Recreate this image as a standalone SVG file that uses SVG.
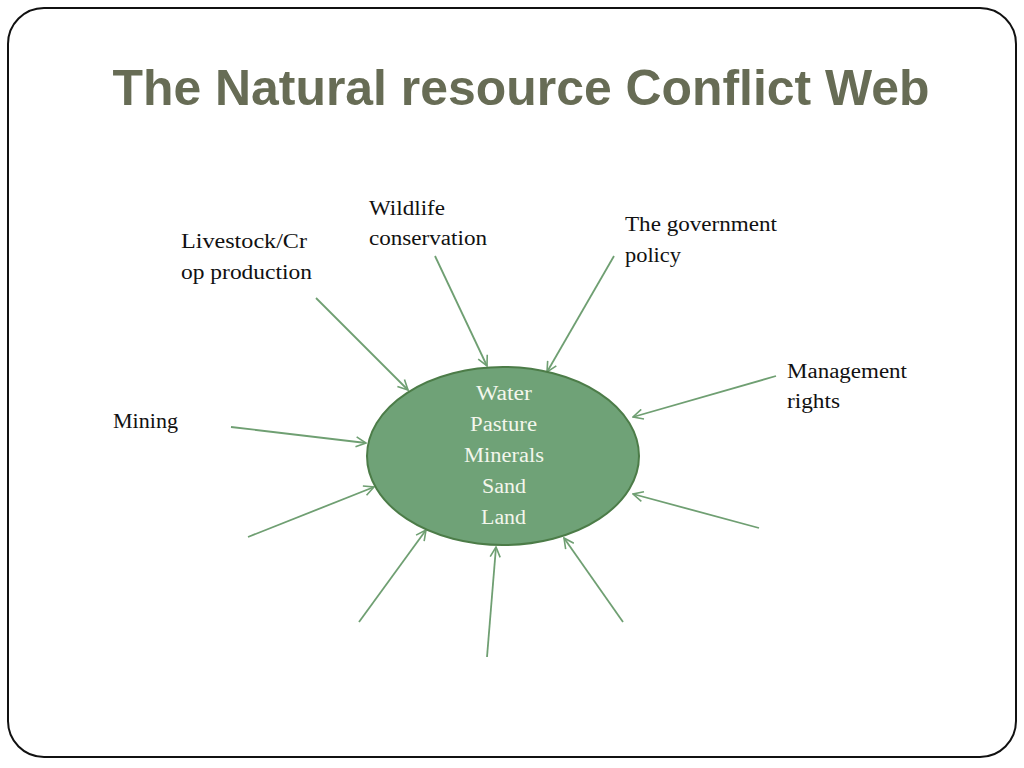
<svg xmlns="http://www.w3.org/2000/svg" width="1024" height="768" viewBox="0 0 1024 768">
<defs>
<marker id="arr" viewBox="0 0 12 12" refX="11" refY="6" markerWidth="12" markerHeight="12" markerUnits="userSpaceOnUse" orient="auto">
<path d="M1,1 L11,6 L1,11" fill="none" stroke="#6f9f72" stroke-width="1.6"/>
</marker>
<style>
.lbl{font-family:"Liberation Serif","DejaVu Serif",serif;font-size:20.5px;fill:#111}
.res{font-family:"Liberation Serif","DejaVu Serif",serif;font-size:20.5px;fill:#f3f6ec;text-anchor:middle}
.c{stroke:#6f9f72;stroke-width:1.8;fill:none;marker-end:url(#arr)}
</style>
</defs>
<rect x="0" y="0" width="1024" height="768" fill="#fff"/>
<rect x="8" y="8" width="1008" height="749" rx="36" ry="36" fill="#fff" stroke="#111" stroke-width="2"/>
<text x="521" y="105" text-anchor="middle" font-family="Liberation Sans,Arial,sans-serif" font-weight="bold" font-size="50" fill="#676c55" textLength="817" lengthAdjust="spacingAndGlyphs">The Natural resource Conflict Web</text>
<g id="connectors">
<line class="c" x1="316" y1="298" x2="408" y2="390"/>
<line class="c" x1="435" y1="256" x2="487" y2="366"/>
<line class="c" x1="614" y1="256" x2="547" y2="372"/>
<line class="c" x1="776" y1="376" x2="633" y2="417"/>
<line class="c" x1="231" y1="427" x2="366" y2="443"/>
<line class="c" x1="248" y1="537" x2="374" y2="487"/>
<line class="c" x1="359" y1="622" x2="426" y2="530"/>
<line class="c" x1="487" y1="657" x2="496" y2="547"/>
<line class="c" x1="623" y1="622" x2="564" y2="538"/>
<line class="c" x1="759" y1="528" x2="633" y2="494"/>
</g>
<g id="resources">
<ellipse cx="503" cy="456" rx="136" ry="89" fill="#6fa277" stroke="#4c7c48" stroke-width="2"/>
<text class="res" x="504" y="400" textLength="56" lengthAdjust="spacingAndGlyphs">Water</text>
<text class="res" x="503.5" y="431" textLength="67" lengthAdjust="spacingAndGlyphs">Pasture</text>
<text class="res" x="504" y="462" textLength="80" lengthAdjust="spacingAndGlyphs">Minerals</text>
<text class="res" x="504" y="493" textLength="44" lengthAdjust="spacingAndGlyphs">Sand</text>
<text class="res" x="503.5" y="524" textLength="45" lengthAdjust="spacingAndGlyphs">Land</text>
</g>
<g id="livestock"><text class="lbl" x="181" y="248" textLength="126" lengthAdjust="spacingAndGlyphs">Livestock/Cr</text><text class="lbl" x="181" y="279" textLength="131" lengthAdjust="spacingAndGlyphs">op production</text></g>
<g id="wildlife"><text class="lbl" x="369" y="215" textLength="76" lengthAdjust="spacingAndGlyphs">Wildlife</text><text class="lbl" x="369" y="245" textLength="118" lengthAdjust="spacingAndGlyphs">conservation</text></g>
<g id="government"><text class="lbl" x="625" y="231" textLength="152" lengthAdjust="spacingAndGlyphs">The government</text><text class="lbl" x="625" y="262" textLength="56" lengthAdjust="spacingAndGlyphs">policy</text></g>
<g id="management"><text class="lbl" x="787" y="378" textLength="120" lengthAdjust="spacingAndGlyphs">Management</text><text class="lbl" x="787" y="408" textLength="53" lengthAdjust="spacingAndGlyphs">rights</text></g>
<g id="mining"><text class="lbl" x="113" y="428" textLength="65" lengthAdjust="spacingAndGlyphs">Mining</text></g>
</svg>
